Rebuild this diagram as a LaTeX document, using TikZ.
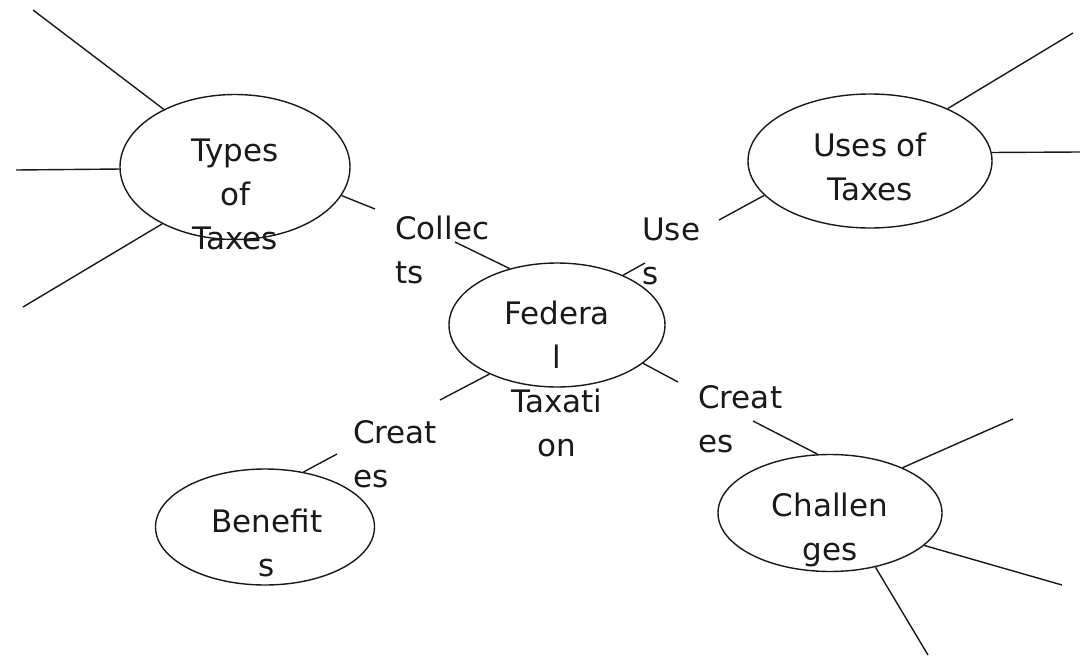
\documentclass[tikz,border=0pt]{standalone}
\usepackage{fontspec}
\setmainfont{DejaVu Sans}
\usetikzlibrary{shapes.geometric}
\definecolor{ink}{RGB}{25,25,25}
\tikzset{
  ell/.style={ellipse, draw=ink, line width=1.4pt, inner sep=0pt, fill=none},
  txt/.style={align=center, inner sep=0pt, text=ink, font=\fontsize{31}{44}\selectfont},
  lbl/.style={align=left, inner sep=0pt, anchor=west, text=ink, font=\fontsize{31}{44}\selectfont},
  link/.style={draw=ink, line width=1.4pt}
}
\begin{document}
\begin{tikzpicture}[x=1pt,y=-1pt]
\useasboundingbox (0,0) rectangle (1080,656);
% ellipses
\node[ell, minimum width=230pt, minimum height=145pt] (types) at (235,167) {};
\node[ell, minimum width=216pt, minimum height=124pt] (fed) at (557,325) {};
\node[ell, minimum width=244pt, minimum height=134pt] (uses) at (870,161) {};
\node[ell, minimum width=219pt, minimum height=116pt] (ben) at (265,527) {};
\node[ell, minimum width=224pt, minimum height=117pt] (chal) at (830,513) {};
% texts
\node[txt] (typesT) at (235,194) {Types\\of\\Taxes};
\node[txt] (fedT) at (557,379) {Federa\\l\\Taxati\\on};
\node[txt] (usesT) at (870,167) {Uses of\\Taxes};
\node[txt] (benT) at (267,543) {Benefit\\s};
\node[txt] (chalT) at (830,530) {Challen\\ges};
% link labels
\node[lbl] (lc) at (395,250) {Collec\\ts};
\node[lbl] (lu) at (642,251) {Use\\s};
\node[lbl] (lb) at (353,454) {Creat\\es};
\node[lbl] (lch) at (698,419) {Creat\\es};
% link ends
\coordinate (c1) at (375,209);
\coordinate (c2) at (455,242);
\coordinate (u1) at (645,263);
\coordinate (u2) at (719,220);
\coordinate (b1) at (337,454);
\coordinate (b2) at (440,400);
\coordinate (h1) at (678,382);
\coordinate (h2) at (753,421);
% leaf ends
\coordinate (t1) at (33,10);
\coordinate (t2) at (16,170);
\coordinate (t3) at (23,307);
\coordinate (s1) at (1073,33);
\coordinate (s2) at (1080,152);
\coordinate (g1) at (1013,419);
\coordinate (g2) at (1062,585);
\coordinate (g3) at (928,655);
% connectors
\draw[link] (types.345) -- (c1);
\draw[link] (c2) -- (fed.130);
\draw[link] (fed.37) -- (u1);
\draw[link] (u2) -- (uses.198);
\draw[link] (fed.216) -- (b2);
\draw[link] (b1) -- (ben.55);
\draw[link] (fed.336) -- (h1);
\draw[link] (h2) -- (chal.102);
% leaves
\draw[link] (types.141) -- (t1);
\draw[link] (types.181) -- (t2);
\draw[link] (types.218) -- (t3);
\draw[link] (uses.34) -- (s1);
\draw[link] (uses.4) -- (s2);
\draw[link] (chal.32) -- (g1);
\draw[link] (chal.341) -- (g2);
\draw[link] (chal.310) -- (g3);
\end{tikzpicture}
\end{document}
